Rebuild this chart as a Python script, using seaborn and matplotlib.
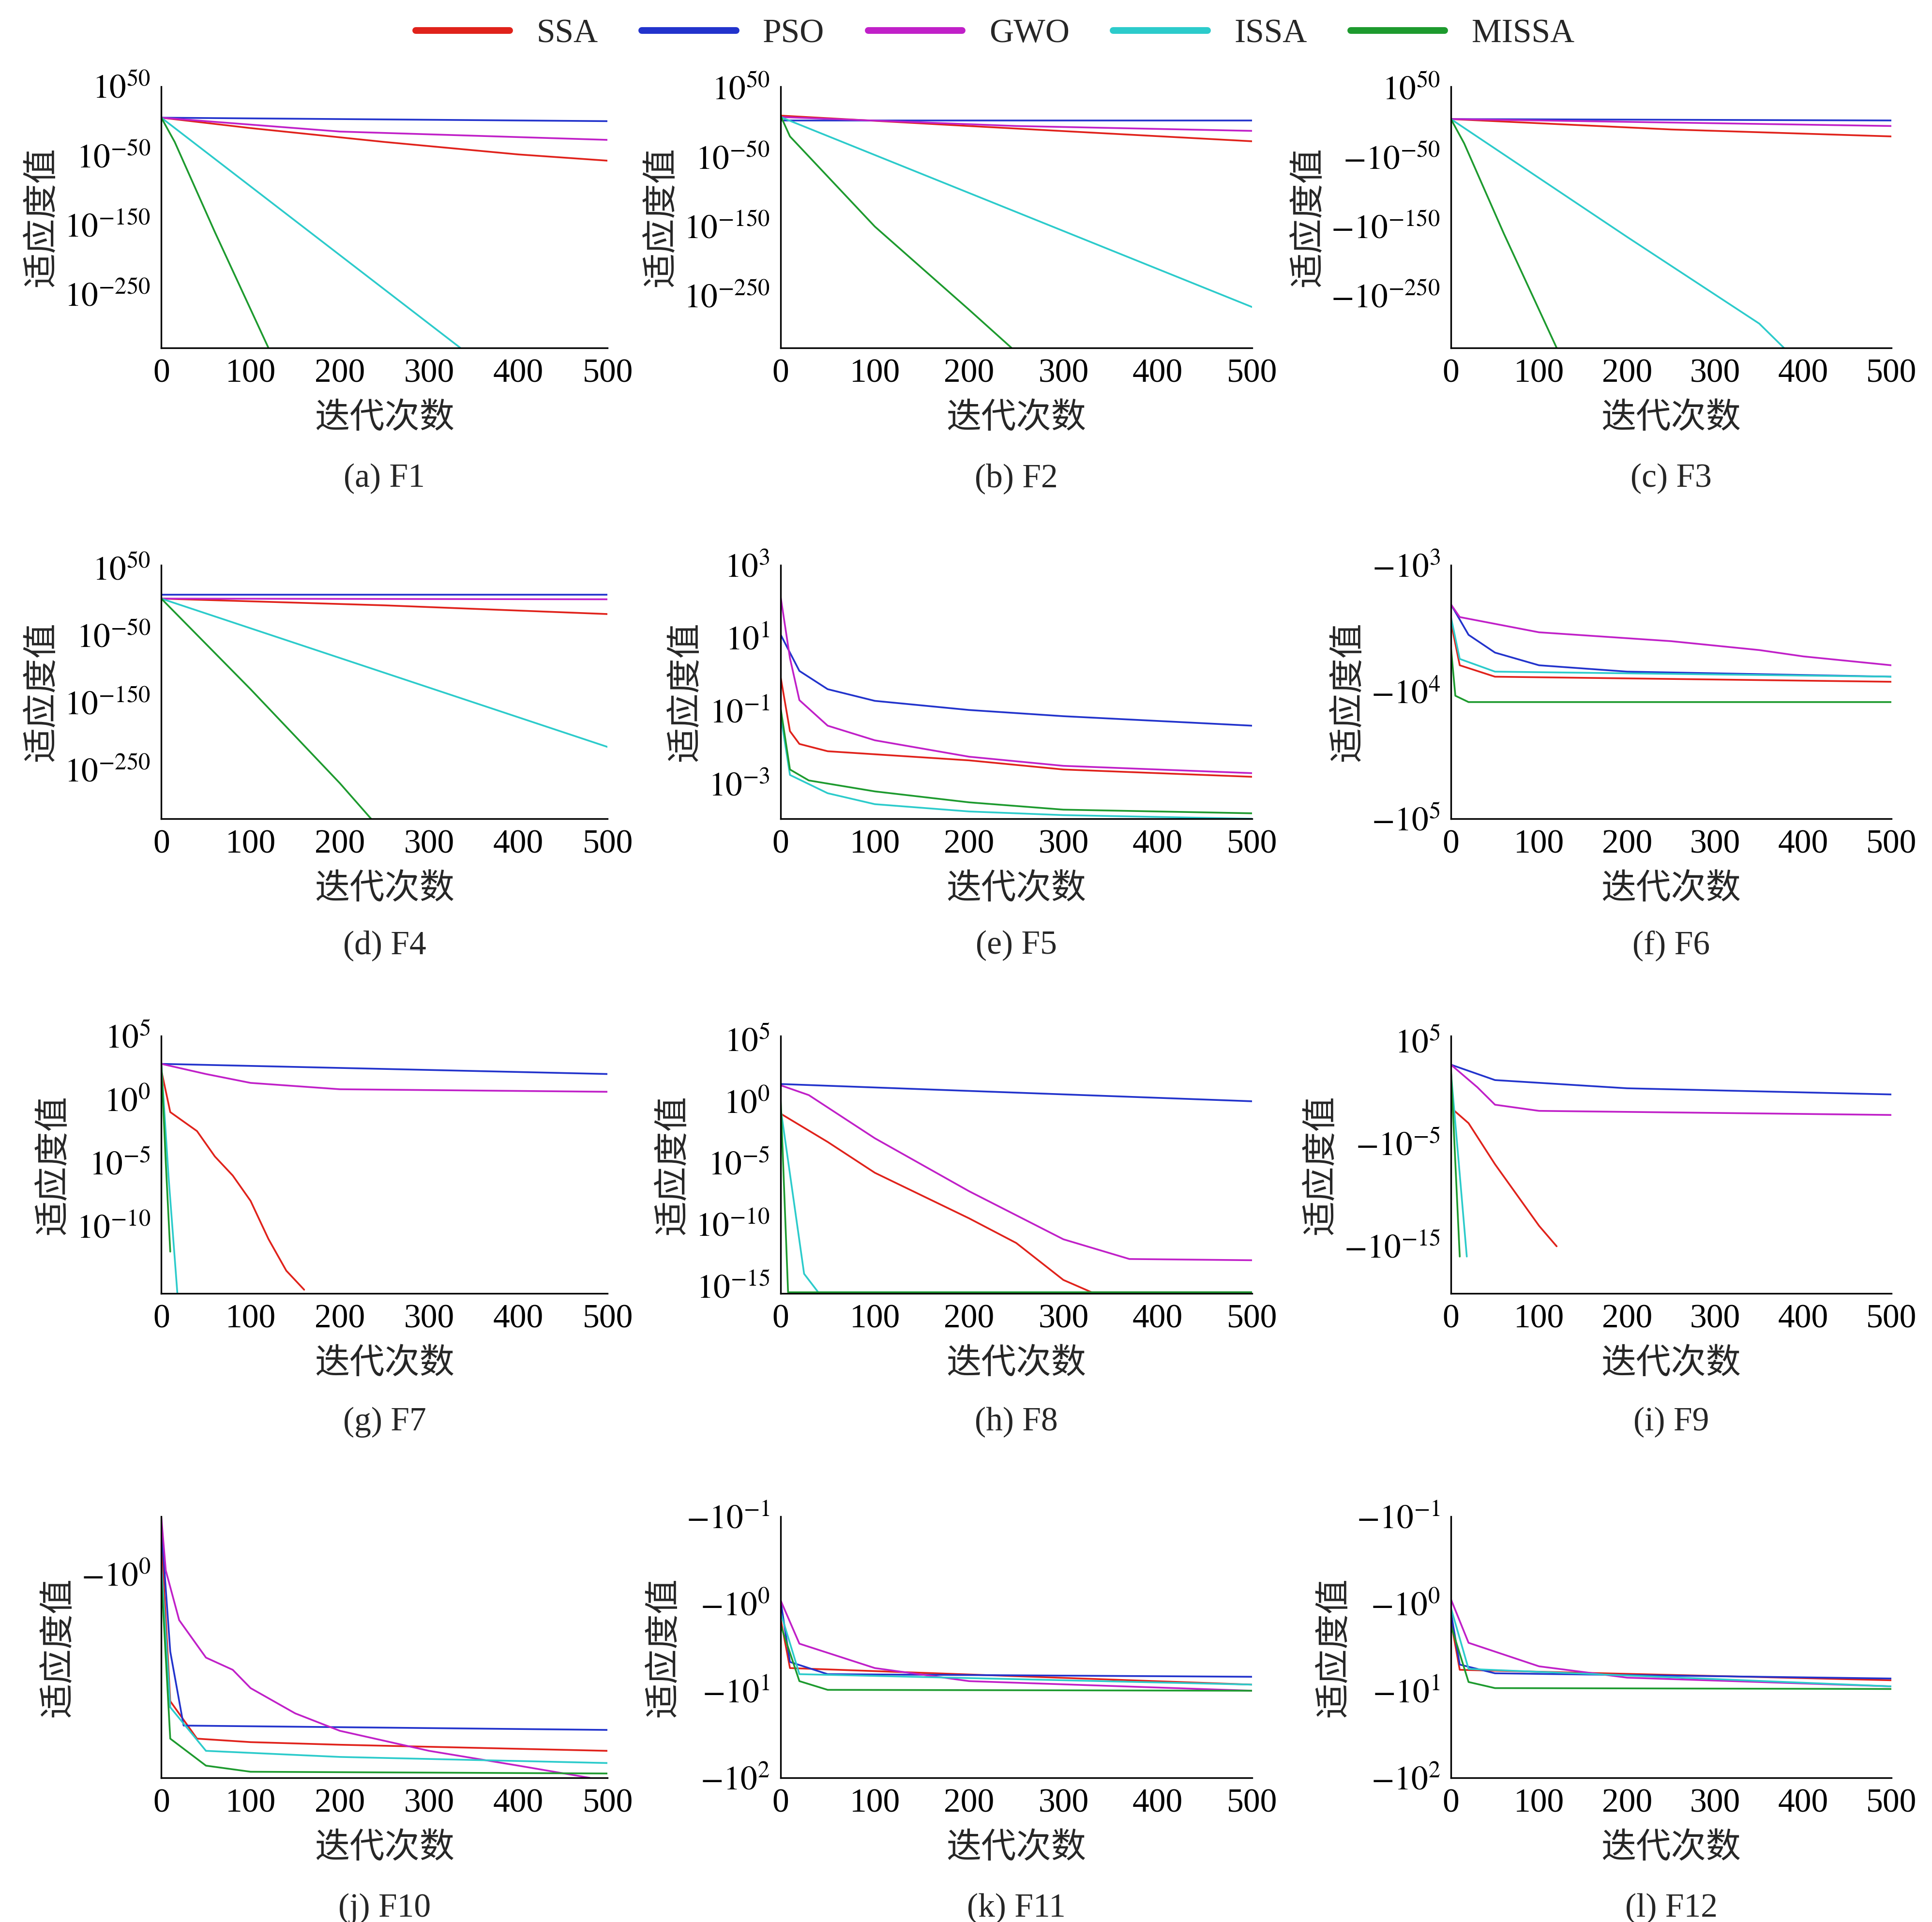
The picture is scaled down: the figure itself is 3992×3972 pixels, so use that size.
import matplotlib
matplotlib.use("Agg")
import matplotlib.pyplot as plt
import seaborn as sns
from matplotlib.lines import Line2D

sns.set_style("white")
plt.rcParams['font.family'] = ['Liberation Serif', 'Noto Sans CJK SC']
plt.rcParams['mathtext.fontset'] = 'stix'

ALGOS = ["SSA", "PSO", "GWO", "ISSA", "MISSA"]
COLORS = {"SSA": "#e0221b", "PSO": "#2233cc", "GWO": "#c020c8", "ISSA": "#2ccbcb", "MISSA": "#1d9a2e"}
XTICKS = [0, 100, 200, 300, 400, 500]

# curves: (iterations, log10 of |fitness|)
F1 = {
    "SSA": ([0, 100, 250, 400, 500], [5, -10, -30, -48, -57]),
    "PSO": ([0, 500], [5, 0]),
    "GWO": ([0, 200, 500], [5, -15, -27]),
    "ISSA": ([0, 335], [5, -327]),
    "MISSA": ([0, 15, 60, 120], [5, -30, -160, -327]),
}
F2 = {
    "SSA": ([0, 200, 500], [10, -5, -27]),
    "PSO": ([0, 500], [3, 3]),
    "GWO": ([0, 250, 500], [8, -5, -12]),
    "ISSA": ([0, 500], [8, -266]),
    "MISSA": ([0, 10, 100, 200, 245], [10, -20, -150, -270, -325]),
}
F3 = {
    "SSA": ([0, 250, 500], [5, -10, -20]),
    "PSO": ([0, 500], [5, 3]),
    "GWO": ([0, 500], [5, -5]),
    "ISSA": ([0, 200, 350, 378], [5, -165, -290, -325]),
    "MISSA": ([0, 15, 60, 120], [5, -30, -160, -325]),
}
F4 = {
    "SSA": ([0, 250, 500], [5, -5, -18]),
    "PSO": ([0, 500], [11, 11]),
    "GWO": ([0, 500], [5, 4]),
    "ISSA": ([0, 500], [5, -216]),
    "MISSA": ([0, 100, 200, 235], [5, -130, -270, -323]),
}
F5 = {
    "SSA": ([0, 10, 20, 50, 200, 300, 500], [-0.05, -1.55, -1.9, -2.1, -2.35, -2.6, -2.8]),
    "PSO": ([0, 20, 50, 100, 200, 300, 500], [1.1, 0.1, -0.4, -0.72, -0.97, -1.14, -1.4]),
    "GWO": ([0, 10, 20, 50, 100, 200, 300, 500], [2.15, 0.45, -0.7, -1.4, -1.8, -2.25, -2.5, -2.7]),
    "ISSA": ([0, 10, 50, 100, 200, 300, 500], [-1.1, -2.75, -3.25, -3.55, -3.75, -3.85, -3.95]),
    "MISSA": ([0, 10, 30, 100, 200, 300, 500], [-0.9, -2.6, -2.9, -3.2, -3.5, -3.7, -3.8]),
}
F6 = {
    "SSA": ([0, 10, 50, 500], [3.45, 3.79, 3.88, 3.92]),
    "PSO": ([0, 20, 50, 100, 200, 500], [3.31, 3.55, 3.69, 3.79, 3.84, 3.88]),
    "GWO": ([0, 10, 100, 250, 350, 400, 500], [3.31, 3.41, 3.53, 3.6, 3.67, 3.72, 3.79]),
    "ISSA": ([0, 10, 50, 500], [3.41, 3.74, 3.84, 3.88]),
    "MISSA": ([0, 5, 20, 500], [3.65, 4.03, 4.08, 4.08]),
}
F7 = {
    "SSA": ([0, 10, 40, 60, 80, 100, 120, 140, 160], [2.3, -1, -2.5, -4.5, -6, -8, -11, -13.5, -15]),
    "PSO": ([0, 500], [2.8, 2.0]),
    "GWO": ([0, 50, 100, 200, 500], [2.8, 2.0, 1.3, 0.8, 0.6]),
    "ISSA": ([0, 8, 18], [2.8, -6, -15.3]),
    "MISSA": ([0, 5, 10], [2.8, -5, -12]),
}
F8 = {
    "SSA": ([0, 50, 100, 200, 250, 300, 330, 500], [-1, -3.3, -5.8, -9.5, -11.5, -14.5, -15.5, -15.5]),
    "PSO": ([0, 500], [1.4, 0]),
    "GWO": ([0, 30, 100, 200, 300, 370, 500], [1.3, 0.5, -3, -7.3, -11.2, -12.8, -12.9]),
    "ISSA": ([0, 25, 40, 500], [-0.5, -14, -15.5, -15.5]),
    "MISSA": ([0, 8, 500], [0.5, -15.5, -15.5]),
}
F9 = {
    "SSA": ([0, 20, 50, 80, 100, 120], [-1.5, -3, -7, -10.6, -13, -15]),
    "PSO": ([0, 50, 200, 500], [2.7, 1.2, 0.4, -0.2]),
    "GWO": ([0, 30, 50, 100, 500], [2.7, 0.5, -1.2, -1.8, -2.2]),
    "ISSA": ([0, 18], [2.0, -16]),
    "MISSA": ([0, 10], [2.3, -16]),
}
F10 = {
    "SSA": ([0, 10, 40, 100, 200, 500], [-0.4, 1.46, 1.89, 1.93, 1.96, 2.03]),
    "PSO": ([0, 10, 25, 500], [-0.54, 0.89, 1.74, 1.79]),
    "GWO": ([0, 5, 20, 50, 80, 100, 150, 200, 300, 400, 480], [-0.65, -0.04, 0.53, 0.96, 1.1, 1.31, 1.6, 1.8, 2.03, 2.2, 2.34]),
    "ISSA": ([0, 10, 50, 200, 500], [-0.11, 1.53, 2.03, 2.1, 2.17]),
    "MISSA": ([0, 10, 50, 100, 500], [0.03, 1.89, 2.2, 2.27, 2.29]),
}
F11 = {
    "SSA": ([0, 10, 500], [0.17, 0.74, 0.93]),
    "PSO": ([0, 10, 50, 500], [-0.04, 0.67, 0.81, 0.84]),
    "GWO": ([0, 20, 100, 200, 500], [-0.04, 0.46, 0.74, 0.89, 1.0]),
    "ISSA": ([0, 20, 500], [0.1, 0.81, 0.93]),
    "MISSA": ([0, 20, 50, 500], [0.24, 0.89, 0.99, 1.0]),
}
F12 = {
    "SSA": ([0, 10, 500], [0.2, 0.76, 0.88]),
    "PSO": ([0, 10, 50, 500], [0.1, 0.7, 0.8, 0.86]),
    "GWO": ([0, 20, 100, 200, 500], [-0.05, 0.45, 0.72, 0.85, 0.95]),
    "ISSA": ([0, 20, 500], [0.05, 0.75, 0.95]),
    "MISSA": ([0, 20, 50, 500], [0.25, 0.9, 0.97, 0.98]),
}

# y tick positions and labels per panel
PANELS = [
    ("(a) F1", F1, [50, -50, -150, -250], [r"$10^{50}$", r"$10^{-50}$", r"$10^{-150}$", r"$10^{-250}$"], (-327, 50), False),
    ("(b) F2", F2, [50, -50, -150, -250], [r"$10^{50}$", r"$10^{-50}$", r"$10^{-150}$", r"$10^{-250}$"], (-325, 52), False),
    ("(c) F3", F3, [50, -50, -150, -250], [r"$10^{50}$", r"$-10^{-50}$", r"$-10^{-150}$", r"$-10^{-250}$"], (-325, 52), False),
    ("(d) F4", F4, [50, -50, -150, -250], [r"$10^{50}$", r"$10^{-50}$", r"$10^{-150}$", r"$10^{-250}$"], (-323, 55), False),
    ("(e) F5", F5, [3, 1, -1, -3], [r"$10^{3}$", r"$10^{1}$", r"$10^{-1}$", r"$10^{-3}$"], (-3.95, 3), False),
    ("(f) F6", F6, [3, 4, 5], [r"$-10^{3}$", r"$-10^{4}$", r"$-10^{5}$"], (3, 5), True),
    ("(g) F7", F7, [5, 0, -5, -10], [r"$10^{5}$", r"$10^{0}$", r"$10^{-5}$", r"$10^{-10}$"], (-15.3, 5), False),
    ("(h) F8", F8, [5, 0, -5, -10, -15], [r"$10^{5}$", r"$10^{0}$", r"$10^{-5}$", r"$10^{-10}$", r"$10^{-15}$"], (-15.6, 5.3), False),
    ("(i) F9", F9, [5, -5, -15], [r"$10^{5}$", r"$-10^{-5}$", r"$-10^{-15}$"], (-19.6, 5.5), False),
    ("(j) F10", F10, [0], [r"$-10^{0}$"], (-0.66, 2.34), True),
    ("(k) F11", F11, [-1, 0, 1, 2], [r"$-10^{-1}$", r"$-10^{0}$", r"$-10^{1}$", r"$-10^{2}$"], (-1, 2), True),
    ("(l) F12", F12, [-1, 0, 1, 2], [r"$-10^{-1}$", r"$-10^{0}$", r"$-10^{1}$", r"$-10^{2}$"], (-1, 2), True),
]

fig = plt.figure(figsize=(19.96, 19.86), dpi=200)
col_x = [(0.0835, 0.231), (0.404, 0.244), (0.751, 0.228)]
row_y = [(0.819, 0.136), (0.574, 0.132), (0.327, 0.134), (0.075, 0.136)]

for i, (title, curves, yt, ylab, ylim, invert) in enumerate(PANELS):
    r, c = divmod(i, 3)
    ax = fig.add_axes([col_x[c][0], row_y[r][0], col_x[c][1], row_y[r][1]])
    for name in ALGOS:
        xs, ys = curves[name]
        sns.lineplot(x=xs, y=ys, ax=ax, color=COLORS[name], linewidth=1.3,
                     estimator=None, sort=False)
    ax.set_xlim(0, 500)
    if invert:
        ax.set_ylim(ylim[1], ylim[0])
    else:
        ax.set_ylim(ylim)
    ax.set_xticks(XTICKS)
    ax.set_yticks(yt)
    ax.set_yticklabels(ylab)
    for s in ["top", "right"]:
        ax.spines[s].set_visible(False)
    for s in ["left", "bottom"]:
        ax.spines[s].set_color("black")
        ax.spines[s].set_linewidth(1.2)
    ax.tick_params(direction="in", length=7, width=1.2, labelsize=25, colors="black", pad=8)
    ax.set_xlabel("迭代次数", fontsize=26, family=['Noto Sans CJK SC'], labelpad=8)
    ax.set_ylabel("适应度值", fontsize=26, family=['Noto Sans CJK SC'], labelpad=4)
    ax.text(0.5, -0.5, title, transform=ax.transAxes, ha="center", va="center", fontsize=25)

handles = [Line2D([], [], color=COLORS[n], linewidth=5) for n in ALGOS]
fig.legend(handles, ALGOS, loc="upper center", bbox_to_anchor=(0.515, 1.006), ncol=5,
           frameon=False, fontsize=25, handlelength=2.8, columnspacing=1.3)

fig.savefig("out.png", dpi=200)
